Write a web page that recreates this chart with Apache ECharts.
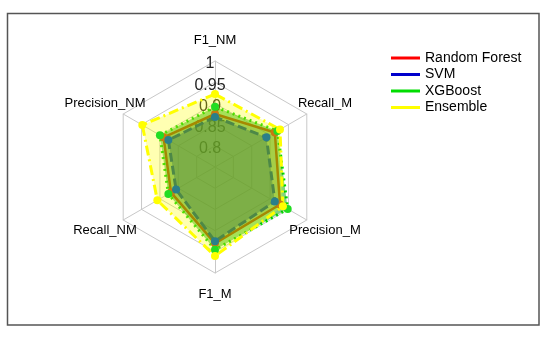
<!DOCTYPE html>
<html>
<head>
<meta charset="utf-8">
<script src="https://cdn.jsdelivr.net/npm/echarts@6/dist/echarts.min.js"></script>
<style>html,body{margin:0;padding:0;background:#fff;}#c{width:550px;height:339px;}</style>
</head>
<body>
<div id="c"></div>
<script>
const indicators = ['F1_NM', 'Precision_NM', 'Recall_NM', 'F1_M', 'Precision_M', 'Recall_M'];
const seriesNames = ['Random Forest', 'SVM', 'XGBoost', 'Ensemble'];
const rfValues = [0.875, 0.89, 0.87, 0.93, 0.927, 0.913];
const svmValues = [0.868, 0.877, 0.856, 0.925, 0.913, 0.89];
const xgbValues = [0.892, 0.90, 0.877, 0.945, 0.948, 0.92];
const ensValues = [0.922, 0.948, 0.907, 0.96, 0.935, 0.927];
const axisMin = 0.75, axisMax = 1;

const values = [rfValues, svmValues, xgbValues, ensValues];
const lineColors = ['#ff0000', '#0000cc', '#00dd00', '#ffff00'];
const pointColors = ['#c87a10', '#2a7f8a', '#22dd22', '#ffff00'];
const fillColors = ['rgba(255,0,0,0.2)', 'rgba(0,0,204,0.45)', 'rgba(0,170,0,0.5)', 'rgba(255,255,0,0.3)'];
const dashes = ['solid', [9, 4], [2, 4], [10, 4, 2, 4]];
const widths = [2.5, 3, 3, 3];

const chart = echarts.init(document.getElementById('c'), null, {renderer: 'canvas'});
const font = '"Liberation Sans", Arial, sans-serif';
chart.setOption({
  animation: false,
  backgroundColor: '#fff',
  graphic: [{
    type: 'rect', z: 100, silent: true,
    shape: {x: 7.5, y: 13.5, width: 531.5, height: 311.5},
    style: {fill: 'none', stroke: '#555', lineWidth: 1.5}
  }],
  legend: {
    orient: 'vertical', left: 386, top: 46,
    icon: 'rect', itemWidth: 29, itemHeight: 3, itemGap: 2.5,
    textStyle: {fontFamily: font, fontSize: 14, color: '#000', lineHeight: 14},
    data: seriesNames
  },
  radar: {
    center: [215, 167], radius: 106,
    shape: 'polygon', splitNumber: 5, startAngle: 90,
    indicator: indicators.map((n, i) => {
      const o = {name: n, min: axisMin, max: axisMax};
      if (i === 0) o.axisLabel = {show: true};
      return o;
    }),
    nameGap: 21,
    axisName: {color: '#000', fontFamily: font, fontSize: 13, align: 'center', verticalAlign: 'middle'},
    splitLine: {lineStyle: {color: '#c8c8c8', width: 1}},
    splitArea: {show: false},
    axisLine: {lineStyle: {color: '#c8c8c8', width: 1}},
    axisTick: {show: false},
    axisLabel: {
      show: false, color: '#222', fontFamily: font, fontSize: 16, margin: 5,
      align: 'center', verticalAlign: 'middle',
      rich: {t: {fontFamily: font, fontSize: 16, color: '#222', padding: [6, 0, 0, 0]}},
      formatter: v => (Math.abs(v - axisMin) < 1e-6 ? '' : '{t|' + String(+(+v).toFixed(2)) + '}')
    }
  },
  series: values.map((vals, i) => ({
    type: 'radar', name: seriesNames[i],
    symbol: 'circle', symbolSize: 8,
    itemStyle: {color: lineColors[i]},
    lineStyle: {color: lineColors[i], width: widths[i], type: dashes[i]},
    areaStyle: {color: fillColors[i], opacity: 1},
    data: [{value: vals, name: seriesNames[i], itemStyle: {color: pointColors[i]}}]
  }))
});
</script>
</body>
</html>
